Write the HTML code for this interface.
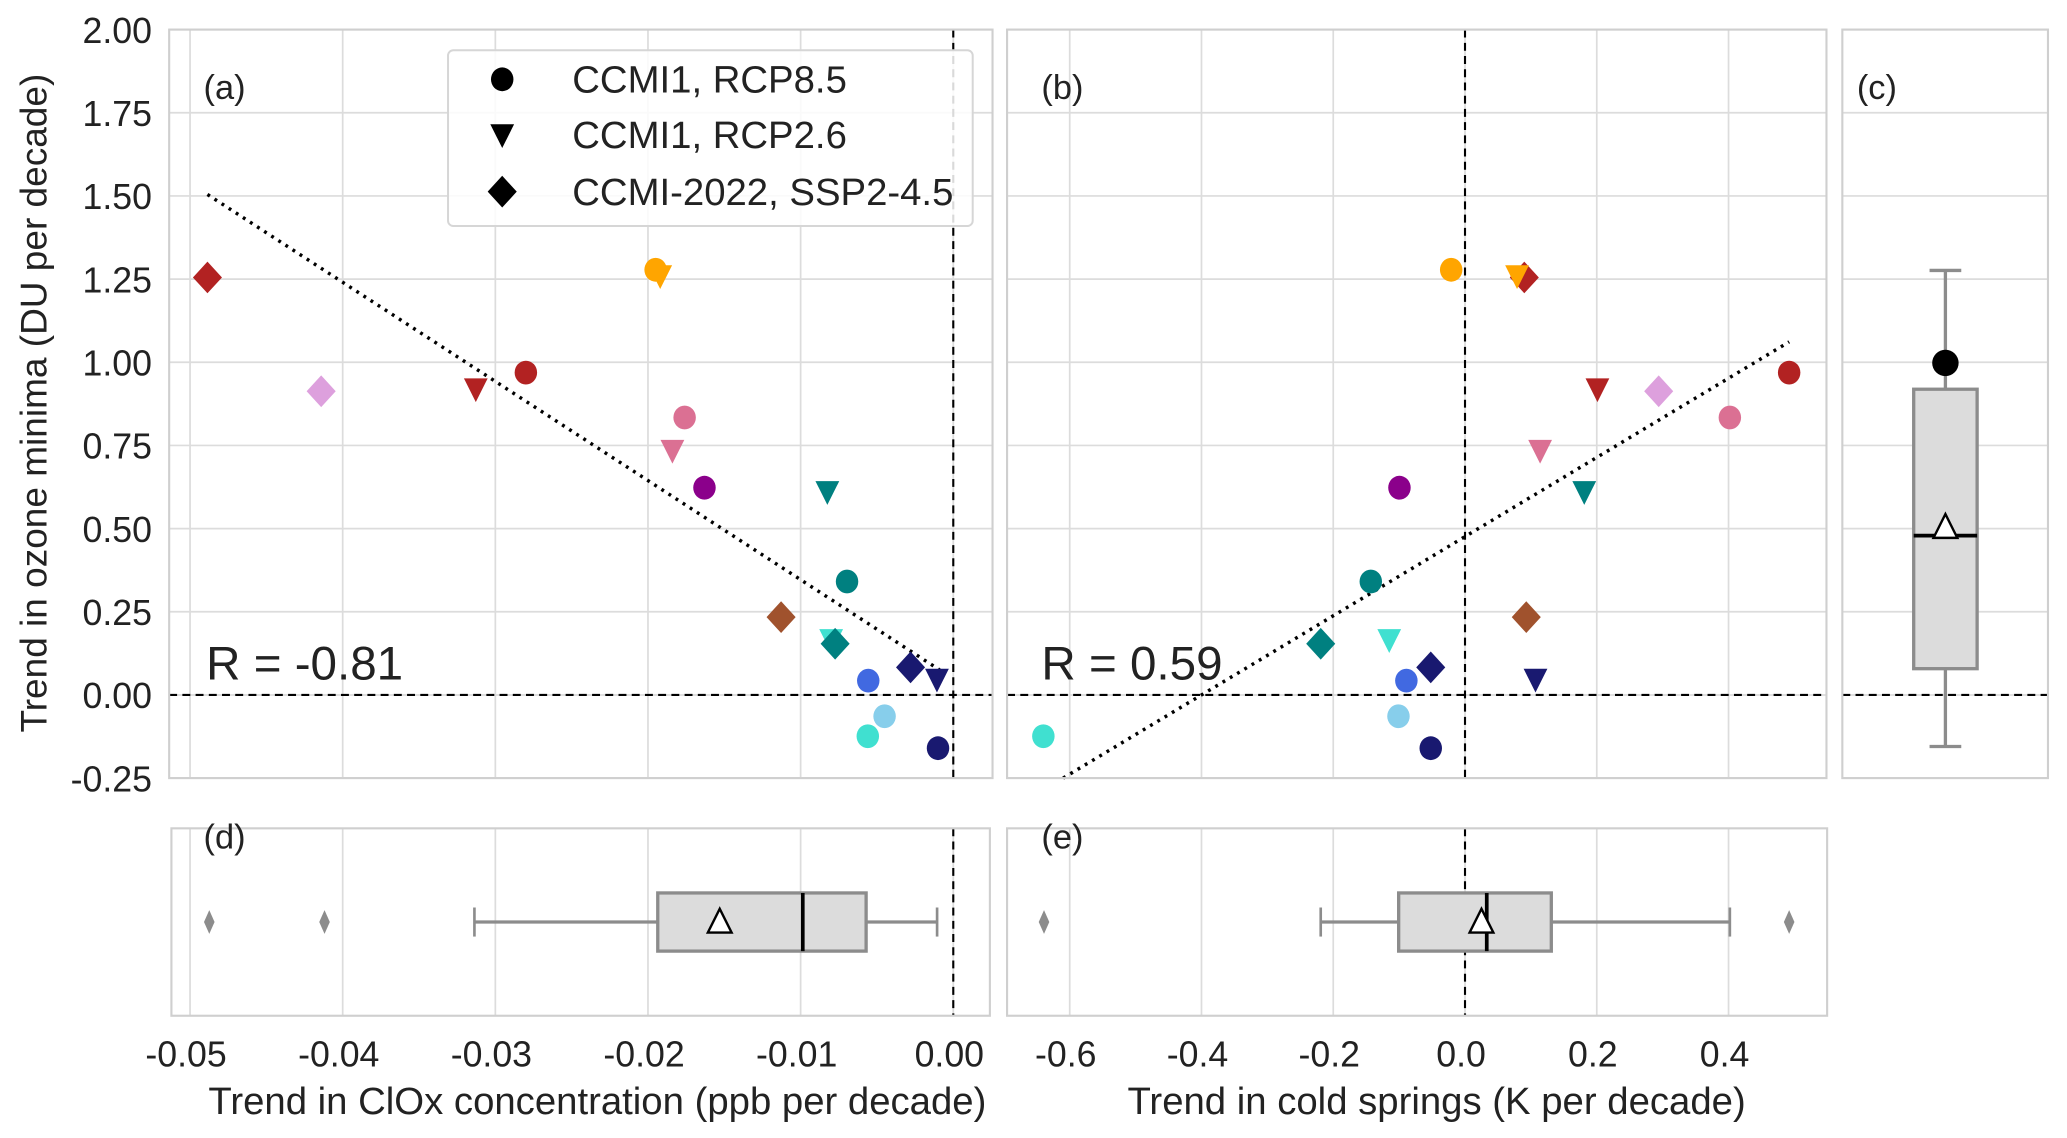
<!DOCTYPE html>
<html><head><meta charset="utf-8"><style>
html,body{margin:0;padding:0;background:#fff}
svg{display:block}
text{font-family:"Liberation Sans",Arial,sans-serif;fill:#222}
</style></head><body>
<svg id="fig" width="2067" height="1138" viewBox="0 0 1564 861" preserveAspectRatio="none" xmlns="http://www.w3.org/2000/svg"></svg>
<script>
// ---- data ----
const names=["r-diamond","plum-diamond","r-tri","r-circ","orange-circ","orange-tri","pv-circ","pv-tri","purple-circ","teal-tri","teal-circ","sienna-diamond","turq-tri","teal-diamond","royal-circ","navy-diamond","navy-tri","sky-circ","turq-circ","navy-circ"];
const markers=["D","D","v","o","o","v","o","v","o","v","o","D","v","D","o","D","v","o","o","o"];
const colors=["#b22222","#dda0dd","#b22222","#b22222","#ffa500","#ffa500","#db7093","#db7093","#8b008b","#008080","#008080","#a0522d","#40e0d0","#008080","#4169e1","#191970","#191970","#87ceeb","#40e0d0","#191970"];
const ozoneTrend=[1.255,0.913,0.92,0.969,1.278,1.26,0.834,0.735,0.623,0.611,0.341,0.234,0.166,0.154,0.043,0.083,0.047,-0.064,-0.124,-0.16];
const cloxTrend=[-0.04886,-0.04141,-0.03128,-0.028,-0.0195,-0.0192,-0.0176,-0.0184,-0.0163,-0.00825,-0.00696,-0.01128,-0.008,-0.00774,-0.00557,-0.0028,-0.00107,-0.0045,-0.0056,-0.001];
const coldTrend=[0.090,0.294,0.201,0.492,-0.021,0.079,0.402,0.114,-0.0995,0.181,-0.143,0.093,-0.115,-0.219,-0.089,-0.052,0.107,-0.101,-0.640,-0.052];
const fitA=[-29.8,0.0485], fitArange=[-0.04886,-0.00089];
const fitB=[1.19,0.476], fitBrange=[-0.61,0.492];
const boxC=[-0.155,0.079,0.479,0.919,1.276], meanC=0.5, outC=[0.998];
const boxD=[-0.03137,-0.01936,-0.00986,-0.00571,-0.00106], meanD=-0.0153, outD=[-0.04874,-0.04119];
const boxE=[-0.219,-0.1007,0.033,0.131,0.402], meanE=0.025, outE=[-0.639,0.492];
const yTicks=[2.00,1.75,1.50,1.25,1.00,0.75,0.50,0.25,0.00,-0.25];
const xTicksA=[-0.05,-0.04,-0.03,-0.02,-0.01,0.00];
const xTicksB=[-0.6,-0.4,-0.2,0.0,0.2,0.4];
// ---- scales ----
const Y=v=>525.8-v*251.7;
const XA=v=>721.3+v*11550;
const XB=v=>1108.5+v*498.5;
const NS="http://www.w3.org/2000/svg", svg=document.getElementById('fig');
function el(t,a,p){const e=document.createElementNS(NS,t);for(const k in a)e.setAttribute(k,a[k]);(p||svg).appendChild(e);return e;}
function txt(s,a,p){const e=el('text',a,p);e.textContent=s;return e;}
const panels={a:[128,22.4,751,588.7],b:[762,22.4,1382,588.7],c:[1394,22.4,1549.6,588.7],d:[129.7,626.7,749,768.5],e:[762,626.7,1382.5,768.5]};
const G={};
for(const k in panels){const [x0,y0,x1,y1]=panels[k];
 const g=el('g',{});
 
 
 G[k]=g;
 el('rect',{x:x0,y:y0,width:x1-x0,height:y1-y0,fill:'#fff'},g);
}
// grids
function vgrid(k,X,ticks){const [x0,y0,x1,y1]=panels[k];ticks.forEach(t=>{const l=el('line',{x1:X(t),x2:X(t),y1:y0,y2:y1,stroke:'#dcdcdc','stroke-width':1.3},G[k]);});}
function hgrid(k){const [x0,y0,x1,y1]=panels[k];yTicks.forEach(t=>{const l=el('line',{x1:x0,x2:x1,y1:Y(t),y2:Y(t),stroke:'#dcdcdc','stroke-width':1.3},G[k]);});}
vgrid('a',XA,xTicksA);hgrid('a');vgrid('b',XB,xTicksB);hgrid('b');hgrid('c');vgrid('d',XA,xTicksA);vgrid('e',XB,xTicksB);
// zero lines
function dash(x1,y1,x2,y2,g){const l=el('line',{x1,y1,x2,y2,stroke:'#000','stroke-width':1.6,'stroke-dasharray':'6,4'},g);}
['a','b','c'].forEach(k=>{const p=panels[k];dash(p[0],Y(0),p[2],Y(0),G[k]);});
dash(XA(0),panels.a[1],XA(0),panels.a[3],G.a);dash(XB(0),panels.b[1],XB(0),panels.b[3],G.b);
dash(XA(0),panels.d[1],XA(0),panels.d[3],G.d);dash(XB(0),panels.e[1],XB(0),panels.e[3],G.e);
// fits
function fit(k,X,f,r){const l=el('line',{x1:X(r[0]),y1:Y(f[0]*r[0]+f[1]),x2:X(r[1]),y2:Y(f[0]*r[1]+f[1]),stroke:'#000','stroke-width':2.6,'stroke-dasharray':'2.2,4.2'},G[k]);}
fit('a',XA,fitA,fitArange);fit('b',XB,fitB,fitBrange);
// markers
function marker(m,x,y,c,g,s){s=s||1;let e;
 if(m==='o')e=el('ellipse',{cx:x,cy:y,rx:8.5*s,ry:9*s,fill:c},g);
 else if(m==='D')e=el('polygon',{points:`${x},${y-12*s} ${x+11*s},${y} ${x},${y+12*s} ${x-11*s},${y}`,fill:c},g);
 else e=el('polygon',{points:`${x-9*s},${y-8*s} ${x+9*s},${y-8*s} ${x},${y+10*s}`,fill:c},g);
 return e;}
names.forEach((n,i)=>{
 const m1=marker(markers[i],XA(cloxTrend[i]),Y(ozoneTrend[i]),colors[i],G.a);
 
 
 const m2=marker(markers[i],XB(coldTrend[i]),Y(ozoneTrend[i]),colors[i],G.b);
 
 
});
// boxplots
function hbox(k,X,b,mean,outs,yc){const g=G[k],h=22,gr='#8c8c8c';
 el('line',{x1:X(b[0]),x2:X(b[1]),y1:yc,y2:yc,stroke:gr,'stroke-width':2.5},g);
 el('line',{x1:X(b[3]),x2:X(b[4]),y1:yc,y2:yc,stroke:gr,'stroke-width':2.5},g);
 el('line',{x1:X(b[0]),x2:X(b[0]),y1:yc-11,y2:yc+11,stroke:gr,'stroke-width':2},g);
 el('line',{x1:X(b[4]),x2:X(b[4]),y1:yc-11,y2:yc+11,stroke:gr,'stroke-width':2},g);
 const r=el('rect',{x:X(b[1]),y:yc-h,width:X(b[3])-X(b[1]),height:2*h,fill:'#dcdcdc',stroke:gr,'stroke-width':2.5},g);
 
 el('line',{x1:X(b[2]),x2:X(b[2]),y1:yc-h,y2:yc+h,stroke:'#000','stroke-width':2.8},g);
 const mx=X(mean);el('polygon',{points:`${mx},${yc-10} ${mx+9},${yc+8} ${mx-9},${yc+8}`,fill:'#fff',stroke:'#000','stroke-width':1.8},g);
 outs.forEach(o=>el('polygon',{points:`${X(o)},${yc-9} ${X(o)+4},${yc} ${X(o)},${yc+9} ${X(o)-4},${yc}`,fill:gr},g));}
hbox('d',XA,boxD,meanD,outD,697.6);hbox('e',XB,boxE,meanE,outE,697.6);
(function(){const g=G.c,xc=1472,w=24,gr='#8c8c8c';
 el('line',{x1:xc,x2:xc,y1:Y(boxC[0]),y2:Y(boxC[1]),stroke:gr,'stroke-width':2.5},g);
 el('line',{x1:xc,x2:xc,y1:Y(boxC[3]),y2:Y(boxC[4]),stroke:gr,'stroke-width':2.5},g);
 el('line',{x1:xc-12,x2:xc+12,y1:Y(boxC[0]),y2:Y(boxC[0]),stroke:gr,'stroke-width':2.5},g);
 el('line',{x1:xc-12,x2:xc+12,y1:Y(boxC[4]),y2:Y(boxC[4]),stroke:gr,'stroke-width':2.5},g);
 const r=el('rect',{x:xc-w,y:Y(boxC[3]),width:2*w,height:Y(boxC[1])-Y(boxC[3]),fill:'#dcdcdc',stroke:gr,'stroke-width':2.5},g);
 
 el('line',{x1:xc-w,x2:xc+w,y1:Y(boxC[2]),y2:Y(boxC[2]),stroke:'#000','stroke-width':2.8},g);
 const my=Y(meanC);el('polygon',{points:`${xc},${my-11} ${xc+9},${my+7} ${xc-9},${my+7}`,fill:'#fff',stroke:'#000','stroke-width':1.8},g);
 outC.forEach(o=>el('circle',{cx:xc,cy:Y(o),r:10,fill:'#000'},g));})();
// frames
for(const k in panels){const [x0,y0,x1,y1]=panels[k];el('rect',{x:x0,y:y0,width:x1-x0,height:y1-y0,fill:'none',stroke:'#cfcfcf','stroke-width':1.6},G[k]);}
// panel labels
[['a',154,75],['b',788,75],['c',1405,75],['d',154,642],['e',788,642]].forEach(([k,x,y])=>{const t=txt('('+k+')',{x,y,'font-size':26},G[k]);});
// R labels
let t=txt('R = -0.81',{x:156,y:514,'font-size':36,fill:'#000'});
t=txt('R = 0.59',{x:788,y:514,'font-size':36,fill:'#000'});
// ticks
yTicks.forEach(v=>{const t=txt(v.toFixed(2),{x:115,y:Y(v)+10,'font-size':27,'text-anchor':'end'});});
xTicksA.forEach(v=>{const t=txt(v.toFixed(2),{x:XA(v)-3,y:807,'font-size':27,'text-anchor':'middle'});});
xTicksB.forEach(v=>{const t=txt(v.toFixed(1),{x:XB(v)-3,y:807,'font-size':27,'text-anchor':'middle'});});
t=txt('Trend in ozone minima (DU per decade)',{x:0,y:0,'font-size':28,'text-anchor':'middle',transform:'translate(35,305) rotate(-90)'});
t=txt('Trend in ClOx concentration (ppb per decade)',{x:452,y:843,'font-size':29,'text-anchor':'middle'});
t=txt('Trend in cold springs (K per decade)',{x:1087,y:843,'font-size':29,'text-anchor':'middle'});
// legend
const lg=el('g',{});


el('rect',{x:339,y:38,width:397,height:133,rx:4,fill:'#fff','fill-opacity':0.85,stroke:'#d6d6d6','stroke-width':1.5},lg);
[['o','CCMI1, RCP8.5',60],['v','CCMI1, RCP2.6',102],['D','CCMI-2022, SSP2-4.5',145]].forEach(([m,l,y])=>{
 const g=el('g',{},lg);
 
 
 marker(m,380,y,'#000',g);
 txt(l,{x:433,y:y+10,'font-size':29},g);
});
</script>
</body></html>
